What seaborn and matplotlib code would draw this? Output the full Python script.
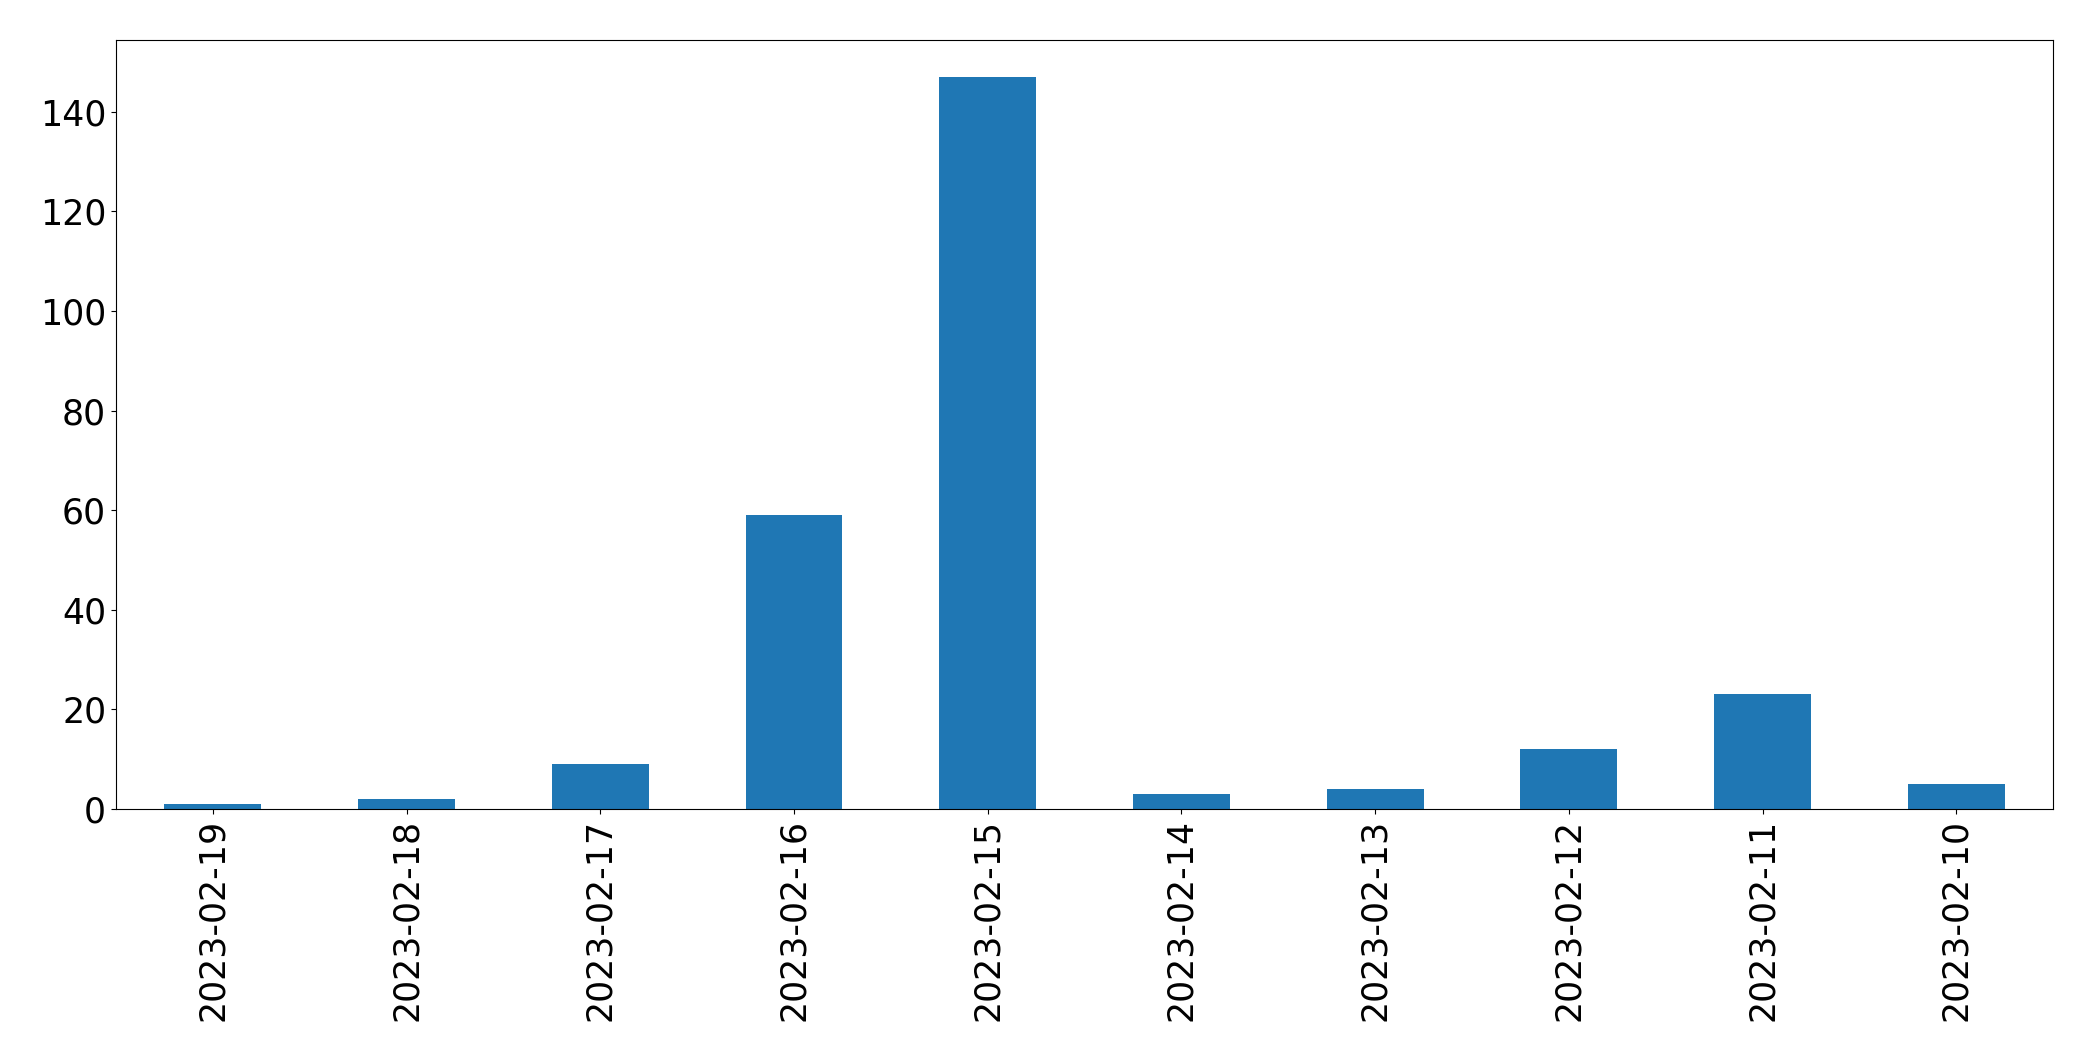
import matplotlib
matplotlib.use('Agg')
import matplotlib.pyplot as plt
import seaborn as sns
import pandas as pd

dates = ['2023-02-19', '2023-02-18', '2023-02-17', '2023-02-16', '2023-02-15',
         '2023-02-14', '2023-02-13', '2023-02-12', '2023-02-11', '2023-02-10']
counts = [1, 2, 9, 59, 147, 3, 4, 12, 23, 5]

df = pd.DataFrame({'date': dates, 'count': counts})

fig = plt.figure(figsize=(20.93, 10.61), dpi=100)
ax = fig.add_axes([0.0554, 0.2375, 0.9256, 0.7245])
sns.barplot(x='date', y='count', data=df, order=dates, color='#1f77b4',
            saturation=1, width=0.5, linewidth=0, ax=ax)
ax.set_xlim(-0.5, len(dates) - 0.5)
ax.set_ylim(0, max(counts) * 1.05)
ax.set_xlabel('')
ax.set_ylabel('')
ax.tick_params(axis='both', labelsize=25)
ax.tick_params(axis='x', labelrotation=90)
fig.savefig('out.png', dpi=100)
